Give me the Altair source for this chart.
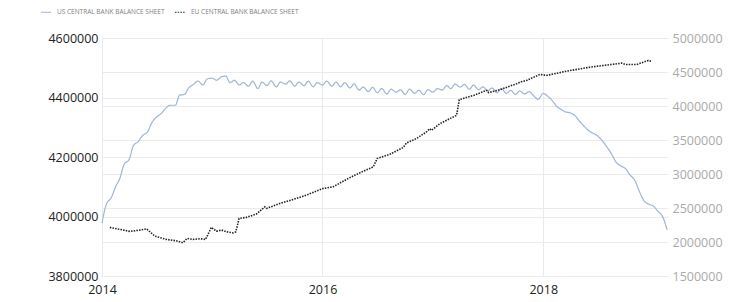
import altair as alt
import pandas as pd

SERIES = ["US CENTRAL BANK BALANCE SHEET", "EU CENTRAL BANK BALANCE SHEET"]

# US Fed balance sheet, semi-monthly 2014-01-01 .. 2019-02-15 (thousands)
us_dates = pd.date_range("2014-01-01", "2019-02-15", freq="SMS").strftime("%Y-%m-%d").tolist()
us_values_k = [
    3978, 4040, 4064, 4100, 4128, 4175, 4192, 4238, 4252, 4272, 4285, 4315,
    4335, 4345, 4365, 4374, 4374, 4408, 4410, 4432, 4445, 4455, 4442, 4462,
    4465, 4458, 4470, 4472, 4450, 4458, 4442, 4450, 4438, 4455, 4430, 4452,
    4440, 4456, 4436, 4452, 4445, 4456, 4438, 4452, 4440, 4455, 4436, 4450,
    4442, 4455, 4438, 4452, 4436, 4450, 4432, 4446, 4425, 4435, 4420, 4434,
    4416, 4430, 4412, 4428, 4418, 4426, 4410, 4428, 4414, 4424, 4410, 4426,
    4418, 4430, 4425, 4440, 4430, 4445, 4435, 4444, 4428, 4442, 4426, 4436,
    4422, 4432, 4416, 4430, 4414, 4424, 4410, 4422, 4412, 4420, 4405, 4394,
    4414, 4405, 4388, 4370, 4360, 4352, 4348, 4340, 4320, 4305, 4288, 4280,
    4270, 4255, 4232, 4210, 4180, 4170, 4160, 4140, 4120, 4085, 4052, 4042,
    4035, 4018, 3998, 3955,
]

# ECB balance sheet (thousands)
eu_dates = [
    "2014-01-27", "2014-03-01", "2014-04-03", "2014-05-06", "2014-05-28", "2014-06-25",
    "2014-08-02", "2014-09-04", "2014-09-26", "2014-10-10", "2014-10-29", "2014-11-21",
    "2014-12-10", "2014-12-29", "2015-01-15", "2015-02-01", "2015-02-17", "2015-03-11",
    "2015-03-20", "2015-03-31", "2015-04-24", "2015-05-27", "2015-06-24", "2015-06-30",
    "2015-08-13", "2015-09-26", "2015-11-09", "2016-01-03", "2016-02-05", "2016-03-26",
    "2016-05-10", "2016-06-17", "2016-06-30", "2016-08-11", "2016-09-24", "2016-10-05",
    "2016-11-07", "2016-12-10", "2016-12-21", "2016-12-27", "2017-01-24", "2017-03-20",
    "2017-03-29", "2017-05-15", "2017-06-28", "2017-07-04", "2017-08-11", "2017-10-05",
    "2017-10-16", "2017-11-07", "2017-12-21", "2018-01-13", "2018-03-20", "2018-06-05",
    "2018-09-18", "2018-09-29", "2018-11-07", "2018-11-29", "2018-12-15", "2018-12-27",
]
eu_values_k = [
    2215, 2185, 2156, 2175, 2194, 2087,
    2038, 2018, 1989, 2053, 2038, 2047,
    2038, 2215, 2160, 2175, 2150, 2135,
    2150, 2347, 2362, 2410, 2517, 2494,
    2567, 2626, 2689, 2787, 2811, 2934,
    3031, 3104, 3227, 3290, 3389, 3456,
    3521, 3618, 3667, 3643, 3741, 3863,
    4093, 4156, 4230, 4196, 4240, 4328,
    4351, 4376, 4464, 4450, 4513, 4571,
    4630, 4611, 4611, 4645, 4670, 4655,
]

left_ticks = [3800000, 4000000, 4200000, 4400000, 4600000]
right_ticks = [1500000, 2000000, 2500000, 3000000, 3500000, 4000000, 4500000, 5000000]
year_ticks = [2014, 2016, 2018]

us_df = pd.DataFrame({"date": us_dates, "value": [v * 1000 for v in us_values_k], "series": SERIES[0]})
eu_df = pd.DataFrame({"date": eu_dates, "value": [v * 1000 for v in eu_values_k], "series": SERIES[1]})

GRID = "#ebebeb"

x_enc = alt.X(
    "date:T",
    scale=alt.Scale(domain=[alt.DateTime(year=2014, month=1, date=1),
                            alt.DateTime(year=2019, month=2, date=18)]),
    axis=alt.Axis(
        values=[alt.DateTime(year=y, month=1, date=1) for y in year_ticks],
        format="%Y", title=None, grid=True, gridColor="#e6ebf0", domain=False,
        ticks=False, labelPadding=7, labelFontSize=12.5, labelColor="#222",
        labelFont="Open Sans", labelFlush=False,
    ),
)

legend = alt.Legend(
    orient="none", legendX=-62, legendY=-32, direction="horizontal", title=None,
    labelFontSize=6.5, labelColor="#808080", labelFont="Open Sans", symbolType="stroke",
    symbolSize=100, symbolStrokeWidth=1.2, columnPadding=7, labelOffset=5,
)
color_enc = alt.Color("series:N", scale=alt.Scale(domain=SERIES, range=["#9fb6d3", "#222222"]), legend=legend)
dash_enc = alt.StrokeDash("series:N", scale=alt.Scale(domain=SERIES, range=[[1, 0], [1.5, 1.2]]), legend=legend)

us_line = alt.Chart(us_df).mark_line(strokeWidth=1.2, interpolate="monotone").encode(
    x=x_enc,
    y=alt.Y("value:Q",
            scale=alt.Scale(domain=[3800000, 4600000], nice=False, zero=False),
            axis=alt.Axis(values=left_ticks, format="d", orient="left", title=None,
                          grid=True, gridColor=GRID, domain=False, ticks=False,
                          labelPadding=4, labelFontSize=12.5, labelColor="#222",
                          labelFont="Open Sans")),
    color=color_enc,
    strokeDash=dash_enc,
)

eu_line = alt.Chart(eu_df).mark_line(strokeWidth=1.6).encode(
    x=x_enc,
    y=alt.Y("value:Q",
            scale=alt.Scale(domain=[1500000, 5000000], nice=False, zero=False),
            axis=alt.Axis(values=right_ticks, format="d", orient="right", title=None,
                          grid=True, gridColor=GRID, domain=False, ticks=False,
                          labelPadding=4, labelFontSize=12.5, labelColor="#aaaaaa",
                          labelFont="Open Sans")),
    color=color_enc,
    strokeDash=dash_enc,
)

chart = alt.layer(us_line, eu_line).resolve_scale(y="independent").properties(
    width=566, height=238,
    autosize=alt.AutoSizeParams(type="none"),
    padding={"left": 102, "top": 38, "right": 74, "bottom": 26},
    background="white",
).configure_view(strokeWidth=0)

chart.save("out.html", embed_options={"renderer": "svg", "actions": False})
